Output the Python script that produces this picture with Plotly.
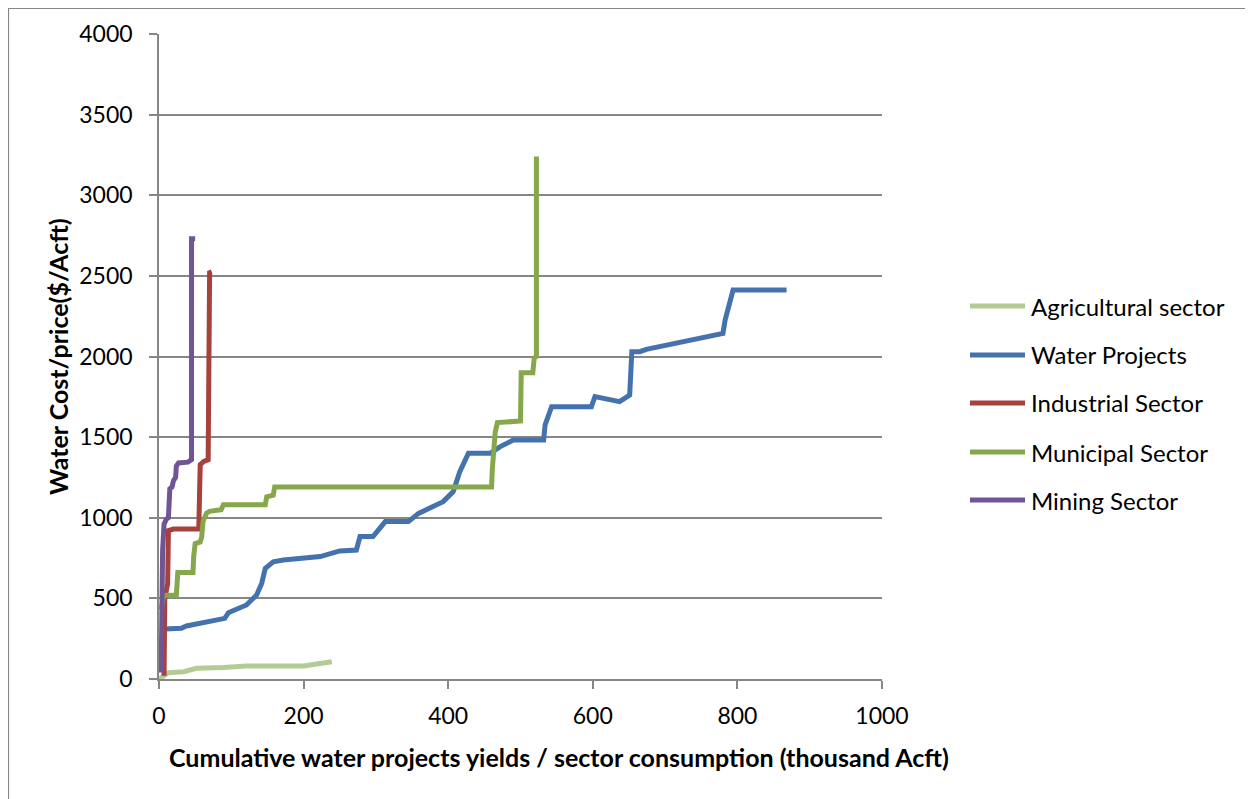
import plotly.graph_objects as go

# ---- data ----
agri_x = [0, 8, 13, 34, 52, 89, 121, 200, 218, 239]
agri_y = [0, 25, 39, 45, 66, 72, 81, 81, 93, 107]

water_x = [8, 31, 38, 91, 96, 121, 135, 142, 147, 158, 172, 223, 250, 273, 278, 296, 313, 345, 359, 393, 407, 416, 428,
           458, 472, 490, 532, 534, 543, 582, 598, 603, 637, 651, 654, 665, 674, 780, 783, 794, 868]
water_y = [310, 314, 329, 376, 411, 459, 521, 593, 686, 727, 738, 759, 794, 800, 883, 883, 976, 976, 1027, 1100, 1162,
           1286, 1400, 1400, 1441, 1482, 1482, 1575, 1689, 1689, 1689, 1751, 1720, 1761, 2030, 2030, 2044, 2143, 2226,
           2412, 2412]

ind_x = [7, 8, 12, 13, 20, 55, 57, 62, 68, 69, 70, 73]
ind_y = [20, 500, 590, 920, 930, 930, 1330, 1350, 1360, 2000, 2520, 2525]

mun_x = [3, 5, 6, 10, 24, 26, 47, 48, 50, 57, 59, 61, 66, 70, 86, 89, 147, 149, 158, 160, 460, 461, 463, 465, 468, 500,
         501, 517, 519, 522, 522]
mun_y = [430, 480, 510, 520, 520, 660, 660, 760, 840, 850, 880, 980, 1030, 1040, 1050, 1080, 1080, 1130, 1140, 1190,
         1190, 1300, 1450, 1530, 1590, 1600, 1900, 1900, 1990, 2000, 3240]

min_x = [3, 4, 5, 7, 10, 13, 15, 18, 20, 23, 24, 27, 40, 45, 45, 50]
min_y = [40, 600, 800, 960, 990, 1000, 1180, 1190, 1230, 1250, 1320, 1340, 1345, 1360, 2730, 2730]

names = ["Agricultural sector", "Water Projects", "Industrial Sector", "Municipal Sector", "Mining Sector"]
colors = ["#B3CC95", "#4472AE", "#A8403C", "#86A74B", "#6F5593"]
xs_all = [agri_x, water_x, ind_x, mun_x, min_x]
ys_all = [agri_y, water_y, ind_y, mun_y, min_y]

x_ticks = [0, 200, 400, 600, 800, 1000]
y_ticks = [0, 500, 1000, 1500, 2000, 2500, 3000, 3500, 4000]

FONT = "Lato, 'Open Sans', sans-serif"

# page pixel -> paper coordinate helpers (plot area: x 159..882, y 34..679 on the page)
def px(x):
    return (x - 159) / 723


def py(y):
    return (679 - y) / 645


fig = go.Figure()
for name, xs, ys, col in zip(names, xs_all, ys_all, colors):
    fig.add_trace(go.Scatter(x=xs, y=ys, name=name, mode="lines", showlegend=False,
                             line=dict(color=col, width=5)))

# manual legend (long line samples like the reference)
shapes = []
annotations = []
legend_rows = [306, 355, 403, 452, 500]
for name, col, ry in zip(names, colors, legend_rows):
    shapes.append(dict(type="line", xref="paper", yref="paper", x0=px(970), x1=px(1025), y0=py(ry), y1=py(ry),
                       line=dict(color=col, width=5)))
    annotations.append(dict(text=name, xref="paper", yref="paper", x=px(1029), y=py(ry), xanchor="left",
                            yanchor="middle", showarrow=False, font=dict(size=24, family=FONT, color="black")))

annotations += [
    dict(text="<b>Cumulative water projects yields / sector consumption (thousand Acft)</b>",
         xref="paper", yref="paper", x=px(559), y=py(757),
         xanchor="center", yanchor="middle", showarrow=False, font=dict(size=25, family=FONT)),
    dict(text="<b>Water Cost/price($/Acft)</b>", textangle=-90,
         xref="paper", yref="paper", x=px(58), y=py(357),
         xanchor="center", yanchor="middle", showarrow=False, font=dict(size=25, family=FONT)),
]

# outer chart border (figure edge on the page starts at 8px because of body margin)
shapes.append(dict(type="rect", xref="paper", yref="paper",
                   x0=px(8.5), x1=px(1270), y0=py(815), y1=py(8.5),
                   line=dict(color="#868686", width=1.2), fillcolor="rgba(0,0,0,0)", layer="below"))

fig.update_layout(
    width=1245, height=791,
    margin=dict(l=151, r=371, t=26, b=120),
    paper_bgcolor="white", plot_bgcolor="white",
    font=dict(family=FONT, size=23, color="black"),
    showlegend=False,
    xaxis=dict(range=[0, 1000], tickvals=x_ticks, showgrid=False, zeroline=False,
               showline=True, linecolor="#868686", linewidth=1.5,
               ticks="outside", ticklen=8, tickcolor="#868686", tickwidth=1.5,
               ticklabelstandoff=8, tickfont=dict(size=23, family=FONT)),
    yaxis=dict(range=[0, 4000], tickvals=y_ticks, showgrid=True, gridcolor="#868686", gridwidth=1.5,
               zeroline=False, showline=True, linecolor="#868686", linewidth=1.5,
               ticks="outside", ticklen=8, tickcolor="#868686", tickwidth=1.5,
               ticklabelstandoff=12, tickfont=dict(size=23, family=FONT)),
    annotations=annotations,
    shapes=shapes,
)

fig.write_html("out.html")
